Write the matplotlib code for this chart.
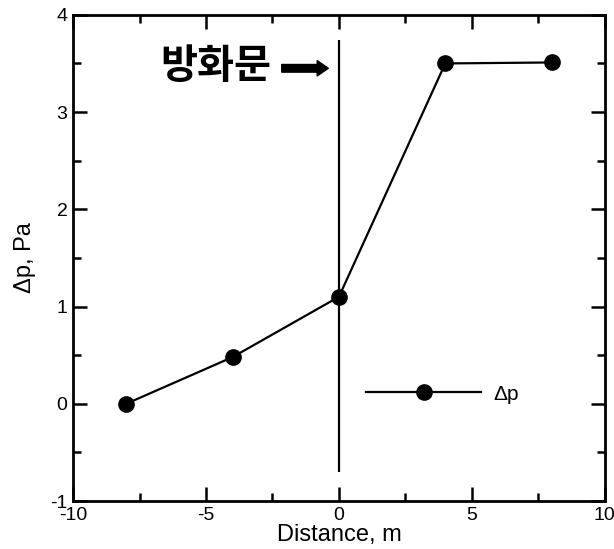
import matplotlib
matplotlib.use('Agg')
import matplotlib.pyplot as plt
from matplotlib.ticker import MultipleLocator

plt.rcParams['font.family'] = ['Liberation Sans', 'Noto Sans CJK KR', 'DejaVu Sans']
plt.rcParams['axes.unicode_minus'] = False

# Data
distance = [-8, -4, 0, 4, 8]
dp = [0.0, 0.48, 1.1, 3.5, 3.51]
door_x = 0
door_y = [-0.7, 3.74]

fig = plt.figure(figsize=(6.14, 5.49), dpi=100)
ax = fig.add_axes([0.119, 0.0874, 0.866, 0.8856])

ax.plot(distance, dp, color='black', linewidth=1.6, marker='o', markersize=11,
        label='Δp')
ax.vlines(door_x, door_y[0], door_y[1], color='black', linewidth=1.6)

ax.text(-6.7, 3.47, '방화문', fontsize=29, fontweight='bold', va='center', ha='left',
        family=['Noto Sans CJK KR', 'DejaVu Sans'])
ax.annotate('', xy=(-0.4, 3.45), xytext=(-2.15, 3.45),
            arrowprops=dict(arrowstyle='simple,head_length=0.8,head_width=1.1,tail_width=0.55',
                            color='black', shrinkA=0, shrinkB=0))

ax.set_xlim(-10, 10)
ax.set_ylim(-1, 4)
ax.xaxis.set_major_locator(MultipleLocator(5))
ax.xaxis.set_minor_locator(MultipleLocator(2.5))
ax.yaxis.set_major_locator(MultipleLocator(1))
ax.yaxis.set_minor_locator(MultipleLocator(0.5))
ax.tick_params(which='both', direction='in', top=True, right=True, width=1.8,
               labelsize=14, colors='black')
ax.tick_params(which='major', length=10, pad=4)
ax.tick_params(which='minor', length=6)
for s in ax.spines.values():
    s.set_linewidth(2)

ax.set_xlabel('Distance, m', fontsize=17, labelpad=0)
ax.set_ylabel('Δp, Pa', fontsize=17, labelpad=10)

ax.legend(loc='center left', bbox_to_anchor=(0.52, 0.22), frameon=False,
          handlelength=5.5, fontsize=15, handletextpad=0.6, borderpad=0.3)

fig.savefig('out.png', dpi=100)
